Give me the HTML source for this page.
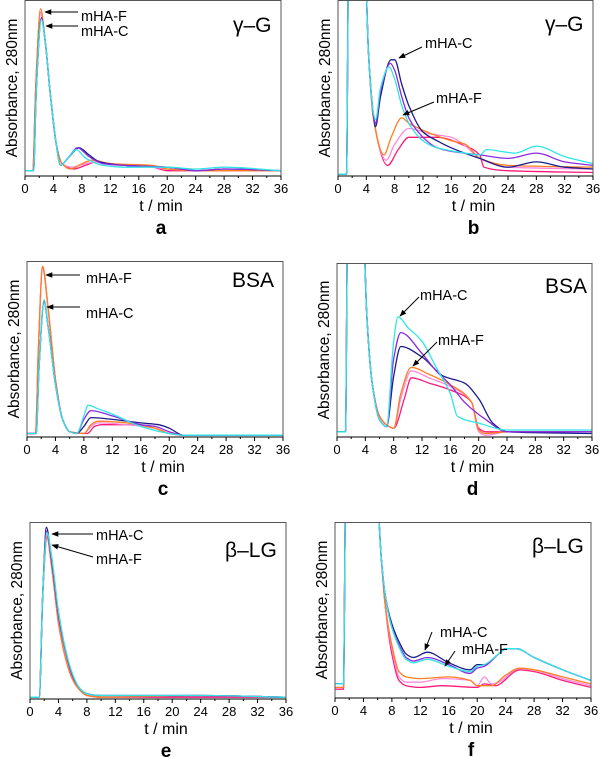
<!DOCTYPE html>
<html><head><meta charset="utf-8">
<style>
html,body{margin:0;padding:0;background:#fff;}
svg{display:block;font-family:"Liberation Sans",Arial,sans-serif;}
</style></head>
<body>
<svg id="fig" width="600" height="757" viewBox="0 0 600 757" xmlns="http://www.w3.org/2000/svg">
<defs>
<marker id="ah" viewBox="0 0 10 10" refX="9" refY="5" markerWidth="7" markerHeight="7" orient="auto"><path d="M0,1 L10,5 L0,9 z" fill="#000"/></marker>
</defs>
</svg>
<script>
// time ticks (min)
const xTicks = [0,4,8,12,16,20,24,28,32,36];
const seriesNames = ["navy","purple","cyan","orange","pink","red"];
const seriesColors = {navy:"#1c1c8a",purple:"#8a2be2",cyan:"#2ee6e6",orange:"#ff7f1e",pink:"#ff88dd",red:"#ff1a7a"};

// Panel a (gamma-G, full scale) values: [t, relative absorbance]
const aNavy=[[0,0.03],[1.2,0.03],[1.6,0.5],[2.3,0.9],[2.8,0.78],[3.6,0.45],[4.4,0.18],[5,0.06],[6,0.1],[7.6,0.16],[9,0.12],[10.5,0.08],[14,0.06],[20,0.05],[24,0.03],[28,0.04],[36,0.03]];
const aPurple=[[0,0.03],[1.2,0.03],[1.6,0.5],[2.3,0.9],[2.8,0.78],[3.6,0.45],[4.4,0.18],[5,0.06],[6,0.1],[7.4,0.16],[9,0.11],[11,0.07],[14,0.06],[20,0.05],[24,0.03],[28,0.04],[36,0.03]];
const aCyan=[[0,0.03],[1.2,0.03],[1.6,0.5],[2.3,0.89],[2.8,0.78],[3.6,0.45],[4.4,0.18],[5,0.06],[6,0.1],[7.2,0.15],[8.6,0.1],[11,0.06],[14,0.05],[20,0.05],[24,0.04],[28,0.05],[36,0.03]];
const aOrange=[[0,0.03],[1.1,0.03],[1.5,0.5],[2.2,0.95],[2.8,0.78],[3.6,0.45],[4.4,0.18],[5.2,0.07],[6.4,0.04],[8,0.07],[9.5,0.09],[12,0.07],[18,0.06],[20,0.04],[24,0.03],[36,0.03]];
const aPink=[[0,0.03],[1.1,0.03],[1.5,0.5],[2.2,0.93],[2.8,0.78],[3.6,0.45],[4.4,0.18],[5.2,0.07],[6.6,0.05],[8.5,0.07],[10,0.08],[12,0.07],[18,0.05],[20,0.04],[24,0.03],[36,0.03]];
const aRed=[[0,0.03],[1.1,0.03],[1.5,0.5],[2.2,0.93],[2.8,0.78],[3.6,0.45],[4.4,0.18],[5.2,0.07],[6.8,0.04],[8.5,0.06],[10,0.08],[12,0.07],[18,0.05],[20,0.03],[24,0.03],[36,0.03]];

// Panel b (gamma-G, expanded)
const bNavy=[[0,0.01],[1.2,0.01],[1.5,1.2],[3.8,1.2],[4.3,0.7],[5,0.35],[5.3,0.28],[6,0.45],[7.5,0.66],[8,0.66],[9,0.52],[10,0.4],[12,0.25],[14,0.2],[16,0.16],[20,0.1],[24,0.05],[28,0.08],[32,0.05],[36,0.04]];
const bPurple=[[0,0.01],[1.2,0.01],[1.5,1.2],[3.8,1.2],[4.3,0.7],[5,0.35],[5.3,0.3],[6,0.48],[7.4,0.64],[8,0.6],[9,0.45],[10,0.33],[12,0.22],[14,0.16],[16,0.14],[20,0.12],[24,0.1],[28,0.13],[32,0.08],[36,0.06]];
const bCyan=[[0,0.01],[1.2,0.01],[1.5,1.2],[3.8,1.2],[4.3,0.7],[5,0.36],[5.3,0.32],[6,0.5],[7.2,0.62],[8,0.55],[9,0.4],[10,0.3],[12,0.2],[14,0.16],[18,0.13],[20,0.12],[21,0.15],[25,0.13],[28,0.17],[32,0.11],[36,0.07]];
const bOrange=[[0,0.01],[1.2,0.01],[1.5,1.2],[3.8,1.2],[4.3,0.7],[5,0.33],[6.5,0.12],[7.5,0.22],[9,0.33],[10,0.3],[12,0.26],[16,0.2],[18,0.18],[20,0.1],[24,0.06],[36,0.05]];
const bPink=[[0,0.01],[1.2,0.01],[1.5,1.2],[3.8,1.2],[4.3,0.7],[5,0.33],[6.8,0.09],[8,0.18],[10,0.27],[13,0.24],[16,0.22],[18,0.17],[20,0.1],[24,0.05],[36,0.04]];
const bRed=[[0,0.01],[1.2,0.01],[1.5,1.2],[3.8,1.2],[4.3,0.7],[5,0.33],[7,0.06],[8.5,0.15],[10,0.22],[14,0.22],[18,0.17],[20,0.12],[20.6,0.05],[24,0.03],[36,0.02]];

// Panel c (BSA, full scale)
const cNavy=[[0,0.02],[1.3,0.02],[1.7,0.4],[2.4,0.77],[3,0.62],[4,0.3],[5,0.1],[6,0.03],[7,0.02],[8,0.06],[9,0.11],[12,0.1],[16,0.08],[18.5,0.07],[20,0.05],[22,0.01],[36,0.01]];
const cPurple=[[0,0.02],[1.3,0.02],[1.7,0.4],[2.4,0.77],[3,0.62],[4,0.3],[5,0.1],[6,0.03],[7,0.02],[8,0.1],[9,0.15],[12,0.12],[16,0.07],[18,0.06],[20,0.03],[22,0.01],[36,0.01]];
const cCyan=[[0,0.02],[1.3,0.02],[1.7,0.4],[2.4,0.78],[3,0.62],[4,0.3],[5,0.1],[6,0.03],[7,0.02],[8,0.12],[8.6,0.18],[10,0.16],[12,0.13],[16,0.06],[20,0.02],[22,0.01],[36,0.01]];
const cOrange=[[0,0.02],[1.2,0.02],[1.6,0.5],[2.2,0.97],[3,0.72],[4,0.33],[5,0.1],[6,0.03],[8,0.02],[9,0.07],[10,0.09],[14,0.08],[18,0.05],[20,0.02],[22,0.01],[36,0.01]];
const cPink=[[0,0.02],[1.2,0.02],[1.6,0.5],[2.2,0.97],[3,0.72],[4,0.33],[5,0.1],[6,0.03],[8,0.02],[9,0.06],[10,0.08],[14,0.07],[18,0.05],[20,0.02],[22,0.01],[36,0.01]];
const cRed=[[0,0.02],[1.2,0.02],[1.6,0.5],[2.2,0.96],[3,0.72],[4,0.33],[5,0.1],[6,0.03],[8.5,0.02],[9.5,0.06],[10.5,0.07],[14,0.07],[18,0.05],[20,0.02],[22,0.01],[36,0.01]];

// Panel d (BSA, expanded)
const dNavy=[[0,0.03],[1.2,0.03],[1.5,1.2],[3.7,1.2],[4.2,0.7],[5,0.3],[6,0.1],[7,0.06],[8,0.35],[9,0.52],[12,0.46],[15,0.35],[18,0.31],[20,0.22],[22,0.08],[24,0.03],[36,0.02]];
const dPurple=[[0,0.03],[1.2,0.03],[1.5,1.2],[3.7,1.2],[4.2,0.7],[5,0.3],[6,0.1],[7,0.06],[8,0.45],[9,0.6],[12,0.48],[14,0.38],[16,0.3],[18,0.2],[21,0.1],[24,0.03],[36,0.03]];
const dCyan=[[0,0.03],[1.2,0.03],[1.5,1.2],[3.7,1.2],[4.2,0.7],[5,0.3],[6,0.1],[7,0.06],[8,0.55],[8.6,0.69],[10,0.63],[12,0.55],[14,0.4],[16,0.25],[17,0.12],[20,0.08],[24,0.04],[36,0.04]];
const dOrange=[[0,0.03],[1.2,0.03],[1.5,1.2],[3.7,1.2],[4.2,0.7],[5,0.3],[6,0.12],[7,0.07],[8,0.05],[9,0.25],[10.5,0.4],[13,0.36],[16,0.3],[19,0.2],[20,0.04],[21,0.02],[24,0.03],[36,0.03]];
const dPink=[[0,0.03],[1.2,0.03],[1.5,1.2],[3.7,1.2],[4.2,0.7],[5,0.3],[6,0.12],[7,0.07],[8,0.05],[9,0.22],[10.5,0.38],[13,0.34],[16,0.29],[19,0.2],[20,0.03],[21,0.01],[24,0.03],[36,0.03]];
const dRed=[[0,0.03],[1.2,0.03],[1.5,1.2],[3.7,1.2],[4.2,0.7],[5,0.3],[6,0.12],[7,0.07],[8,0.05],[9.5,0.22],[10.5,0.34],[13,0.31],[16,0.27],[19,0.2],[20,0.05],[21,0.03],[24,0.03],[36,0.03]];

// Panel e (beta-LG, full scale)
const eNavy=[[0,0.01],[1.3,0.01],[1.8,0.6],[2.3,0.97],[3,0.8],[4,0.48],[5,0.27],[6,0.13],[7,0.06],[8,0.03],[10,0.02],[24,0.02],[36,0.01]];
const ePurple=[[0,0.01],[1.3,0.01],[1.8,0.6],[2.3,0.95],[3,0.8],[4,0.48],[5,0.27],[6,0.13],[7,0.06],[8,0.03],[10,0.02],[24,0.02],[36,0.01]];
const eCyan=[[0,0.01],[1.3,0.01],[1.8,0.6],[2.4,0.94],[3,0.82],[4,0.5],[5,0.28],[6,0.14],[7,0.06],[8,0.03],[10,0.02],[24,0.02],[36,0.01]];
const eOrange=[[0,0.01],[1.3,0.01],[1.8,0.6],[2.4,0.92],[3,0.77],[4,0.44],[5,0.23],[6,0.11],[7,0.05],[8,0.02],[10,0.01],[24,0.02],[36,0.01]];
const ePink=[[0,0.01],[1.3,0.01],[1.8,0.6],[2.4,0.92],[3,0.77],[4,0.44],[5,0.23],[6,0.11],[7,0.05],[8,0.02],[10,0.01],[24,0.02],[36,0.01]];
const eRed=[[0,0.01],[1.3,0.01],[1.8,0.6],[2.4,0.91],[3,0.76],[4,0.43],[5,0.23],[6,0.11],[7,0.05],[8,0.02],[10,0.01],[24,0.01],[36,0.01]];

// Panel f (beta-LG, expanded)
const fNavy=[[0,0.08],[1.2,0.08],[1.5,1.2],[5.8,1.2],[6.5,0.8],[7,0.6],[8,0.42],[9,0.32],[10,0.25],[11,0.23],[13,0.26],[16,0.2],[19,0.16],[20,0.19],[21,0.19],[23,0.25],[24,0.28],[25.5,0.28],[28,0.23],[32,0.16],[36,0.1]];
const fPurple=[[0,0.08],[1.2,0.08],[1.5,1.2],[5.8,1.2],[6.5,0.8],[7,0.6],[8,0.4],[9,0.3],[10,0.23],[11,0.21],[13,0.23],[16,0.19],[19,0.14],[20,0.17],[21,0.18],[23,0.25],[24,0.28],[25.5,0.28],[28,0.23],[32,0.16],[36,0.1]];
const fCyan=[[0,0.08],[1.2,0.08],[1.5,1.2],[5.8,1.2],[6.5,0.8],[7,0.6],[8,0.4],[9,0.29],[10,0.22],[11,0.2],[13,0.22],[16,0.18],[19,0.15],[20,0.18],[21,0.19],[23,0.25],[24,0.28],[25.5,0.28],[28,0.23],[32,0.16],[36,0.1]];
const fOrange=[[0,0.06],[1.2,0.06],[1.5,1.2],[5.8,1.2],[6.5,0.8],[7,0.55],[8,0.3],[9,0.15],[10,0.12],[12,0.11],[16,0.12],[19,0.1],[20,0.07],[22,0.07],[24,0.13],[26,0.17],[28,0.16],[32,0.12],[36,0.08]];
const fPink=[[0,0.06],[1.2,0.06],[1.5,1.2],[5.8,1.2],[6.5,0.8],[7,0.55],[8,0.28],[9,0.12],[10,0.09],[12,0.09],[15,0.11],[19,0.1],[20,0.07],[21,0.12],[22,0.08],[23,0.09],[26,0.17],[28,0.16],[32,0.11],[36,0.07]];
const fRed=[[0,0.05],[1.2,0.05],[1.5,1.2],[5.8,1.2],[6.5,0.8],[7,0.55],[8,0.25],[9,0.1],[10,0.07],[12,0.06],[15,0.07],[20,0.06],[21,0.08],[22.5,0.07],[26,0.16],[28,0.15],[32,0.1],[36,0.06]];

const panels = [
 {id:"a",L:25,R:281,T:0,B:176,title:"\u03b3\u2013G",tx:233,ty:32,data:[aNavy,aPurple,aCyan,aOrange,aPink,aRed],
  notes:[["mHA-F",81,21,78,12,45,12],["mHA-C",81,36,78,26,46,26]]},
 {id:"b",L:338,R:593,T:0,B:176,title:"\u03b3\u2013G",tx:545,ty:31,data:[bNavy,bPurple,bCyan,bOrange,bPink,bRed],
  notes:[["mHA-C",425,48,422,47,399,58],["mHA-F",436,103,434,102,403,115]]},
 {id:"c",L:27,R:283,T:261,B:437,title:"BSA",tx:232,ty:287,data:[cNavy,cPurple,cCyan,cOrange,cPink,cRed],
  notes:[["mHA-F",86,283,80,275,46,275],["mHA-C",86,318,80,307,47,307]]},
 {id:"d",L:337,R:592,T:263,B:437,title:"BSA",tx:545,ty:293,data:[dNavy,dPurple,dCyan,dOrange,dPink,dRed],
  notes:[["mHA-C",420,300,419,297,400,316],["mHA-F",438,345,437,342,413,366]]},
 {id:"e",L:30,R:286,T:522,B:699,title:"\u03b2\u2013LG",tx:225,ty:557,data:[eNavy,ePurple,eCyan,eOrange,ePink,eRed],
  notes:[["mHA-C",96,540,93,534,52,534],["mHA-F",96,564,93,557,52,545]]},
 {id:"f",L:335,R:591,T:522,B:698,title:"\u03b2\u2013LG",tx:532,ty:553,data:[fNavy,fPurple,fCyan,fOrange,fPink,fRed],
  notes:[["mHA-C",440,637,432,632,425,650],["mHA-F",462,654,455,651,445,666]]}
];
const NS="http://www.w3.org/2000/svg";
const svg=document.getElementById("fig");
function mk(tag,attrs,parent){const e=document.createElementNS(NS,tag);for(const k in attrs)e.setAttribute(k,attrs[k]);(parent||svg).appendChild(e);return e;}

// monotone cubic path through pixel points
function monoPath(P){
  const n=P.length; if(n<2) return "";
  const dx=[],m=[],t=[];
  for(let i=0;i<n-1;i++){dx[i]=P[i+1][0]-P[i][0];m[i]=(P[i+1][1]-P[i][1])/dx[i];}
  t[0]=m[0];t[n-1]=m[n-2];
  for(let i=1;i<n-1;i++){ if(m[i-1]*m[i]<=0) t[i]=0; else { const w1=2*dx[i]+dx[i-1],w2=dx[i]+2*dx[i-1]; t[i]=(w1+w2)/(w1/m[i-1]+w2/m[i]); } }
  let d="M"+P[0][0].toFixed(1)+","+P[0][1].toFixed(1);
  for(let i=0;i<n-1;i++){
    const h=dx[i]/3;
    d+=" C"+(P[i][0]+h).toFixed(1)+","+(P[i][1]+t[i]*h).toFixed(1)+" "+(P[i+1][0]-h).toFixed(1)+","+(P[i+1][1]-t[i+1]*h).toFixed(1)+" "+P[i+1][0].toFixed(1)+","+P[i+1][1].toFixed(1);
  }
  return d;
}

panels.forEach(p=>{
  const g=mk("g",{});
  
  
  const xs=t=>p.L+(t/36)*(p.R-p.L);
  const ys=v=>p.B-v*(p.B-p.T);
  const cid="clip-"+p.id;
  const cp=mk("clipPath",{id:cid},g);
  mk("rect",{x:p.L,y:p.T,width:p.R-p.L,height:p.B-p.T},cp);
  const lines=mk("g",{"clip-path":"url(#"+cid+")"},g);
  
  
  const order=[5,4,3,0,1,2];
  order.forEach(i=>{
    const arr=p.data[i];
    const d=monoPath(arr.map(pt=>[xs(pt[0]),ys(pt[1])]));
    const path=mk("path",{d:d,fill:"none",stroke:seriesColors[seriesNames[i]],"stroke-width":1.3,"stroke-linejoin":"round"},lines);
    
    
  });
  const frame=mk("rect",{x:p.L,y:p.T+0.5,width:p.R-p.L,height:p.B-p.T-0.5,fill:"none",stroke:"#555","stroke-width":1},g);
  
  
  mk("line",{x1:p.L,y1:p.B,x2:p.R,y2:p.B,stroke:"#000","stroke-width":1},g);
  xTicks.forEach(t=>{
    mk("line",{x1:xs(t),y1:p.B,x2:xs(t),y2:p.B+4,stroke:"#000"},g);
    if(t<36) mk("line",{x1:xs(t+2),y1:p.B,x2:xs(t+2),y2:p.B+2,stroke:"#000"},g);
    const tl=mk("text",{x:xs(t),y:p.B+17,"font-size":13,"text-anchor":"middle",fill:"#000"},g);
    tl.textContent=t;
    
    
  });
  const xt=mk("text",{x:(p.L+p.R)/2+8,y:p.B+35,"font-size":16,"text-anchor":"middle"},g);
  xt.textContent="t / min";
  
  
  const yc=(p.T+p.B)/2;
  const yt=mk("text",{x:p.L-8,y:yc,"font-size":15.5,"text-anchor":"middle",transform:"rotate(-90 "+(p.L-8)+" "+yc+")"},g);
  yt.textContent="Absorbance, 280nm";
  
  
  const tt=mk("text",{x:p.tx,y:p.ty,"font-size":21},g);
  tt.textContent=p.title;
  
  
  p.notes.forEach(n=>{
    const nt=mk("text",{x:n[1],y:n[2],"font-size":14.5},g);
    nt.textContent=n[0];
    
    
    const ar=mk("line",{x1:n[3],y1:n[4],x2:n[5],y2:n[6],stroke:"#000","stroke-width":1,"marker-end":"url(#ah)"},g);
    
    
  });
  const lt=mk("text",{x:(p.L+p.R)/2+8,y:p.B+58,"font-size":19,"font-weight":"bold","text-anchor":"middle"},g);
  lt.textContent=p.id;
  
  
});
</script>
</body></html>
